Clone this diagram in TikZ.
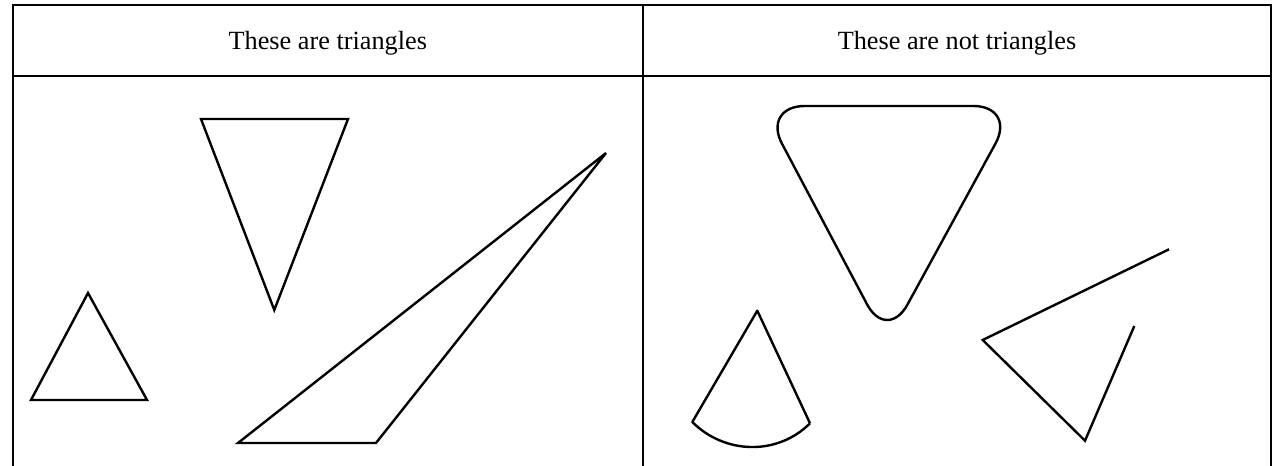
\documentclass[tikz,border=0pt]{standalone}
\usepackage{fontspec}
\setmainfont{Liberation Serif}
\begin{document}
\begin{tikzpicture}[x=0.75pt,y=-0.75pt,
  rule/.style={line width=1.5pt,line cap=rect},
  figline/.style={line width=1.8pt,line join=miter,miter limit=4},
  head/.style={anchor=base,inner sep=0pt,font=\fontsize{19.7}{24}\selectfont}]
\useasboundingbox (0,0) rectangle (1273,466);
% table rules
\draw[rule] (13,466) -- (13,5) -- (1271.3,5) -- (1271.3,466);
\draw[rule] (13,75.7) -- (1271.3,75.7);
\draw[rule] (642.7,5) -- (642.7,466);
% headers
\node[head] (h1) at (327.8,49.5) {These are triangles};
\node[head] (h2) at (957,49.5) {These are not triangles};
% triangles
\draw[figline] (88,293) -- (147,400) -- (31,400) -- cycle;
\draw[figline] (201,119) -- (348,119) -- (274.3,310) -- cycle;
\draw[figline] (606,153) -- (376,443) -- (238,443) -- cycle;
% not triangles
\draw[figline,rounded corners=32pt] (887,342) -- (762,106) -- (1016,106) -- cycle;
\draw[figline,line join=round] (810,423.3) -- (757.3,310.7) -- (692.3,422)
  .. controls (724.8,454.5) and (777.5,455.8) .. (810,423.3);
\draw[figline] (1169,249.3) -- (982.7,340) -- (1085,440.7) -- (1134.3,326);
\end{tikzpicture}
\end{document}
